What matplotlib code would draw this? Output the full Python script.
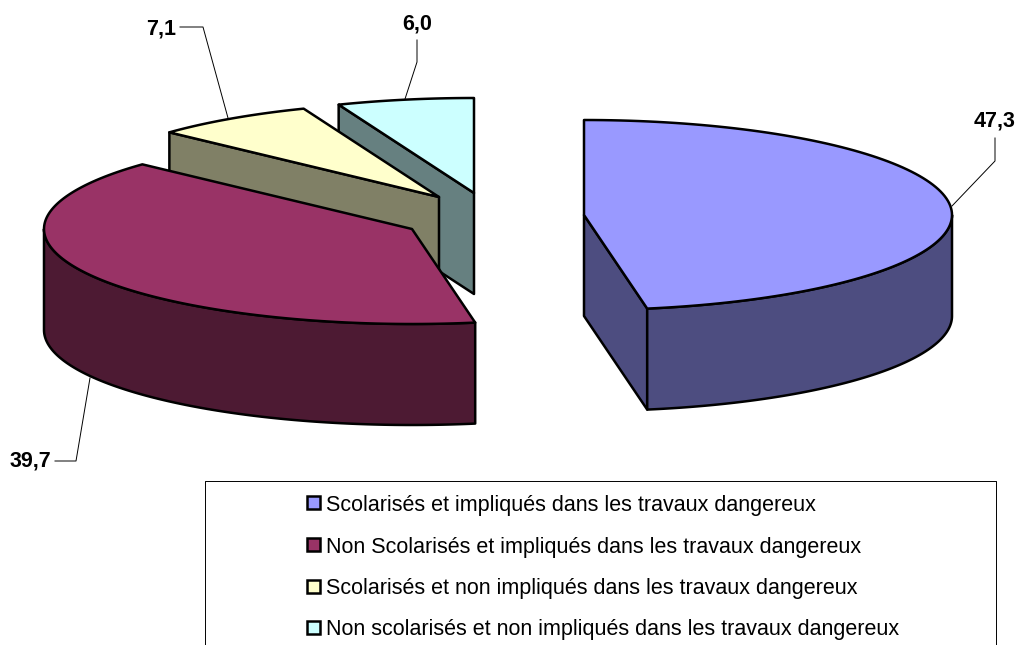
# Import libraries
import numpy as np
import matplotlib
matplotlib.use("Agg")
import matplotlib.pyplot as plt
from matplotlib.patches import Polygon, Rectangle

plt.rcParams['font.family'] = ['Liberation Sans', 'DejaVu Sans']

# data
values = [47.3, 39.7, 7.1, 6.0]
value_labels = ["47,3", "39,7", "7,1", "6,0"]
categories = ["Scolarisés et impliqués dans les travaux dangereux",
              "Non Scolarisés et impliqués dans les travaux dangereux",
              "Scolarisés et non impliqués dans les travaux dangereux",
              "Non scolarisés et non impliqués dans les travaux dangereux"]
top_colors = ["#9999FF", "#993366", "#FFFFCC", "#CCFFFF"]
side_colors = ["#4D4D80", "#4D1A33", "#808066", "#668080"]

# layout in pixels
RX, RY, DEPTH = 368, 95, 101
centers = [(584, 215), (412, 229), (439, 197), (474, 193)]  # exploded slice apexes
EDGE = 1.8


def rim(center, t0, t1, drop=0):
    """points of the ellipse rim, angles in degrees clockwise from 12 o'clock"""
    t = np.radians(np.linspace(t0, t1, 120))
    return np.column_stack([center[0] + RX * np.sin(t),
                            center[1] - RY * np.cos(t) + drop])


def face(ax, pts, color):
    ax.add_patch(Polygon(pts, closed=True, facecolor=color, edgecolor="black",
                         linewidth=EDGE, joinstyle="round"))


def draw_slice(ax, center, t0, t1, top, side):
    c = np.array(center, dtype=float)
    down = np.array([0, DEPTH])

    # cut faces, only the ones turned to the viewer
    if np.sin(np.radians(t0)) < -1e-6:
        p = rim(center, t0, t0)[0]
        face(ax, [c, p, p + down, c + down], side)
    if np.sin(np.radians(t1)) > 1e-6:
        p = rim(center, t1, t1)[0]
        face(ax, [c, p, p + down, c + down], side)

    # outer wall is only seen on the front half
    a, b = max(t0, 90), min(t1, 270)
    if a < b:
        upper = rim(center, a, b)
        lower = rim(center, a, b, DEPTH)
        face(ax, np.vstack([upper, lower[::-1]]), side)

    face(ax, np.vstack([c, rim(center, t0, t1)]), top)


fig = plt.figure(figsize=(10.19, 6.45), dpi=100)
ax = fig.add_axes([0, 0, 1, 1])
ax.set_xlim(0, 1019)
ax.set_ylim(645, 0)
ax.axis("off")

# angles from the values, painted back to front
total = sum(values)
stops = np.concatenate([[0], np.cumsum(values)]) / total * 360
for i in [3, 2, 1, 0]:
    draw_slice(ax, centers[i], stops[i], stops[i + 1], top_colors[i], side_colors[i])

# leader lines and value labels
leaders = [[(952, 206), (995, 161), (995, 138)],
           [(90, 378), (76, 461), (55, 461)],
           [(228, 118), (203, 27), (180, 27)],
           [(405, 99), (417, 62), (417, 40)]]
label_pos = [(995, 126.5), (30, 467), (161, 34), (417, 29.5)]
for line, pos, text in zip(leaders, label_pos, value_labels):
    xs, ys = zip(*line)
    ax.plot(xs, ys, color="black", linewidth=0.7, zorder=5)
    ax.text(pos[0], pos[1], text, fontsize=15.5, fontweight="bold",
            ha="center", va="baseline", color="black")

# legend box runs off the bottom of the picture
ax.plot([205.5, 205.5, 996, 996], [645, 481, 481, 645], color="black",
        linewidth=0.7, clip_on=True)
legend_y = [502, 544, 586.5, 627.5]
legend_base = [510.5, 552.5, 594, 635]
for y, base, name, color in zip(legend_y, legend_base, categories, top_colors):
    ax.add_patch(Rectangle((307, y - 6.5), 13, 13, facecolor=color,
                           edgecolor="black", linewidth=EDGE))
    ax.text(326, base, name, fontsize=15.5, ha="left", va="baseline", color="black")

fig.savefig("out.png", dpi=100)
